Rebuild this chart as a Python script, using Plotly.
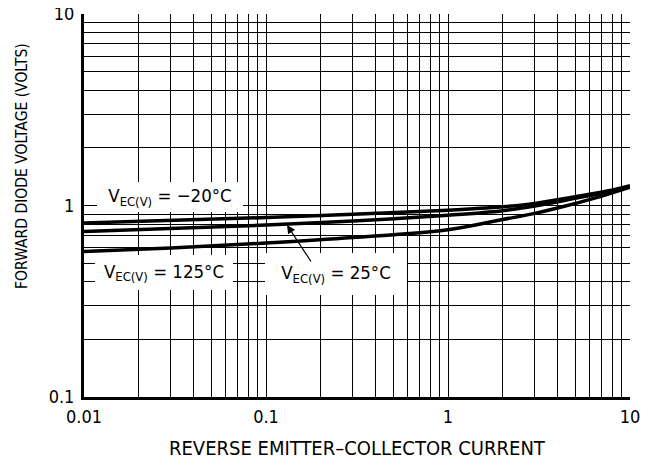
import plotly.graph_objects as go

# ---- data ----
x_cold = [0.01, 0.1, 0.3, 1, 2, 3, 5, 7.5, 10]
y_cold = [0.81, 0.865, 0.90, 0.945, 0.985, 1.025, 1.11, 1.19, 1.27]

x_room = [0.01, 0.1, 0.3, 1, 2, 3, 5, 7.5, 10]
y_room = [0.732, 0.79, 0.83, 0.89, 0.94, 0.995, 1.09, 1.175, 1.255]

x_hot = [0.01, 0.03, 0.1, 0.3, 1, 2, 3, 4, 7, 10]
y_hot = [0.575, 0.60, 0.637, 0.68, 0.747, 0.845, 0.91, 0.97, 1.12, 1.245]

x_decades = [0.01, 0.1, 1, 10]
x_decade_labels = ["0.01", "0.1", "1", "10"]
y_decades = [0.1, 1, 10]
y_decade_labels = ["0.1", "1", "10"]

label_cold = "V<sub>EC(V)</sub> = \u221220\u00b0C"
label_room = "V<sub>EC(V)</sub> = 25\u00b0C"
label_hot = "V<sub>EC(V)</sub> = 125\u00b0C"
x_title = "REVERSE EMITTER\u2013COLLECTOR CURRENT"
y_title = "FORWARD DIODE VOLTAGE (VOLTS)"

FONT = "DejaVu Sans Condensed, sans-serif"


def log_grid(decades, labels):
    vals, texts = [], []
    for d, lab in zip(decades[:-1], labels[:-1]):
        for k in range(1, 10):
            vals.append(d * k)
            texts.append(lab if k == 1 else "")
    vals.append(decades[-1])
    texts.append(labels[-1])
    return vals, texts


xv, xt = log_grid(x_decades, x_decade_labels)
yv, yt = log_grid(y_decades, y_decade_labels)

fig = go.Figure()
for xs, ys in [(x_cold, y_cold), (x_room, y_room), (x_hot, y_hot)]:
    fig.add_trace(go.Scatter(x=xs, y=ys, mode="lines",
                             line=dict(color="black", width=3.5, shape="spline"),
                             showlegend=False, hoverinfo="skip"))

# page body has an 8px margin: figure drawn at screen (8, 8)
OFF = 8
W, H = 645, 456
# plot area in screen pixels
PX0, PX1, PY0, PY1 = 84, 630, 14, 397
L, T = PX0 - OFF, PY0 - OFF
R, B = W + OFF - PX1, H + OFF - PY1
pw, ph = PX1 - PX0, PY1 - PY0


def px(xpix):
    return (xpix - PX0) / pw


def py(ypix):
    return (PY1 - ypix) / ph


fig.update_layout(
    width=W, height=H,
    margin=dict(l=L, r=R, t=T, b=B, pad=0, autoexpand=False),
    paper_bgcolor="white", plot_bgcolor="white",
    font=dict(family=FONT, color="black", size=19),
    xaxis=dict(type="log", range=[-2, 1], tickvals=xv, ticktext=xt,
               showgrid=True, gridcolor="black", gridwidth=1.4,
               showline=True, linecolor="black", linewidth=3,
               ticks="", ticklabelstandoff=1, zeroline=False, automargin=False,
               ticklabeloverflow="allow", tickfont=dict(size=18)),
    yaxis=dict(type="log", range=[-1, 1], tickvals=yv, ticktext=yt,
               showgrid=True, gridcolor="black", gridwidth=1.4,
               showline=True, linecolor="black", linewidth=3,
               ticks="", ticklabelstandoff=3, zeroline=False, automargin=False,
               ticklabeloverflow="allow", tickfont=dict(size=18)),
)

annots = [
    dict(text=label_cold, x=px(170), y=py(197), width=146, height=30),
    dict(text=label_hot, x=px(164), y=py(272.5), width=138, height=35),
    dict(text=label_room, x=px(336), y=py(274), width=142, height=42),
]
for a in annots:
    fig.add_annotation(xref="paper", yref="paper", showarrow=False,
                       bgcolor="white", borderpad=0, borderwidth=0,
                       xanchor="center", yanchor="middle",
                       font=dict(size=18.5, family=FONT), **a)

# arrow pointing to the 25 C curve
fig.add_annotation(xref="paper", yref="paper", x=px(287), y=py(225), text="",
                   showarrow=True, ax=25, ay=38, arrowhead=2, arrowsize=1.4,
                   arrowwidth=1.2, arrowcolor="black", standoff=0)

fig.add_annotation(xref="paper", yref="paper", x=px(357), y=py(448), text=x_title,
                   showarrow=False, xanchor="center", yanchor="middle",
                   font=dict(size=20, family=FONT))
fig.add_annotation(xref="paper", yref="paper", x=px(22), y=py(166), text=y_title,
                   showarrow=False, xanchor="center", yanchor="middle", textangle=-90,
                   font=dict(size=15.5, family=FONT))

fig.write_html("out.html")
